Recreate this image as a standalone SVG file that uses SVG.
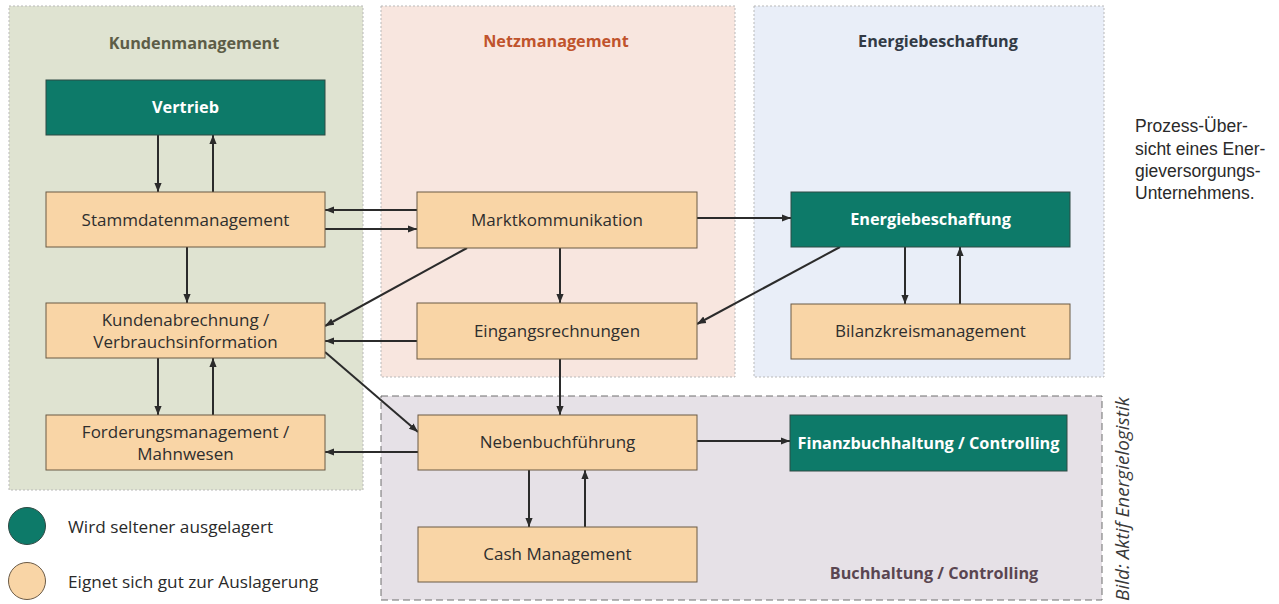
<svg xmlns="http://www.w3.org/2000/svg" width="1279" height="604" viewBox="0 0 1279 604">
<defs>
<marker id="ah" viewBox="0 0 10 10" refX="10" refY="5" markerWidth="9" markerHeight="9" markerUnits="userSpaceOnUse" orient="auto">
<path d="M0,1 L10,5 L0,9 z" fill="#2b2b2b"/>
</marker>
<style>
.panel{stroke:#b9b9b9;stroke-width:1;stroke-dasharray:2 2}
.title{font-family:"Open Sans","Liberation Sans",sans-serif;font-weight:bold;font-size:16.2px;text-anchor:middle}
.peach{fill:#f9d5a6;stroke:#6b5a45;stroke-width:1}
.teal{fill:#0d7a69;stroke:#2f4a44;stroke-width:1}
.lbl{font-family:"Open Sans","Liberation Sans",sans-serif;font-size:17px;fill:#2e2e2e;text-anchor:middle}
.wl{font-family:"Open Sans","Liberation Sans",sans-serif;font-size:16.3px;font-weight:bold;fill:#ffffff;text-anchor:middle}
.c line{stroke:#2b2b2b;stroke-width:2;marker-end:url(#ah)}
.cap{font-family:"Liberation Sans",sans-serif;font-size:17.5px;fill:#2a2a2a}
.leg{font-family:"Open Sans","Liberation Sans",sans-serif;font-size:17.2px;fill:#2a2a2a}
</style>
</defs>
<rect width="1279" height="604" fill="#ffffff"/>
<g id="panel-kunden">
<rect class="panel" x="9" y="6" width="354" height="484" fill="#dfe3d1"/>
<text class="title" x="194" y="49" fill="#5d5d47">Kundenmanagement</text>
</g>
<g id="panel-netz">
<rect class="panel" x="381" y="6" width="354" height="371" fill="#f8e6df"/>
<text class="title" x="556" y="47" fill="#c0532c">Netzmanagement</text>
</g>
<g id="panel-energie">
<rect class="panel" x="754" y="6" width="350" height="371" fill="#e9eef8"/>
<text class="title" x="938" y="47" fill="#323a45">Energiebeschaffung</text>
</g>
<g id="panel-buchhaltung">
<rect x="381" y="396" width="721" height="204" fill="#e6e1e7" stroke="#6e6e6e" stroke-width="1" stroke-dasharray="7 4"/>
<text class="title" x="934" y="579" fill="#5a4651">Buchhaltung / Controlling</text>
</g>
<g id="connectors" class="c">
<line x1="158" y1="135" x2="158" y2="192"/>
<line x1="213" y1="192" x2="213" y2="135"/>
<line x1="187" y1="247" x2="187" y2="303"/>
<line x1="158" y1="358" x2="158" y2="415"/>
<line x1="213" y1="415" x2="213" y2="358"/>
<line x1="417" y1="210" x2="325" y2="210"/>
<line x1="325" y1="229" x2="417" y2="229"/>
<line x1="467" y1="248" x2="325" y2="326"/>
<line x1="417" y1="341" x2="325" y2="341"/>
<line x1="560" y1="248" x2="560" y2="303"/>
<line x1="697" y1="218" x2="791" y2="218"/>
<line x1="840" y1="247" x2="697" y2="324"/>
<line x1="905" y1="247" x2="905" y2="304"/>
<line x1="960" y1="304" x2="960" y2="247"/>
<line x1="560" y1="359" x2="560" y2="415"/>
<line x1="325" y1="352" x2="418" y2="432"/>
<line x1="418" y1="452" x2="325" y2="452"/>
<line x1="697" y1="441" x2="790" y2="441"/>
<line x1="529" y1="470" x2="529" y2="527"/>
<line x1="585" y1="527" x2="585" y2="470"/>
</g>
<g id="n-vertrieb"><rect class="teal" x="46" y="80" width="279" height="55"/><text class="wl" x="185.5" y="113">Vertrieb</text></g>
<g id="n-stammdaten"><rect class="peach" x="46" y="192" width="279" height="55"/><text class="lbl" x="185.5" y="226">Stammdatenmanagement</text></g>
<g id="n-kundenabrechnung"><rect class="peach" x="46" y="303" width="279" height="55"/><text class="lbl" x="185.5" y="326">Kundenabrechnung /</text><text class="lbl" x="185.5" y="348">Verbrauchsinformation</text></g>
<g id="n-forderung"><rect class="peach" x="46" y="415" width="279" height="55"/><text class="lbl" x="185.5" y="438">Forderungsmanagement /</text><text class="lbl" x="185.5" y="460">Mahnwesen</text></g>
<g id="n-markt"><rect class="peach" x="417" y="192" width="280" height="56"/><text class="lbl" x="557" y="226">Marktkommunikation</text></g>
<g id="n-eingang"><rect class="peach" x="417" y="303" width="280" height="56"/><text class="lbl" x="557" y="337">Eingangsrechnungen</text></g>
<g id="n-nebenbuch"><rect class="peach" x="418" y="415" width="279" height="55"/><text class="lbl" x="557.5" y="448">Nebenbuchführung</text></g>
<g id="n-cash"><rect class="peach" x="418" y="527" width="279" height="55"/><text class="lbl" x="557.5" y="560">Cash Management</text></g>
<g id="n-energiebeschaffung"><rect class="teal" x="791" y="192" width="279" height="55"/><text class="wl" x="930.5" y="225">Energiebeschaffung</text></g>
<g id="n-bilanzkreis"><rect class="peach" x="791" y="304" width="279" height="55"/><text class="lbl" x="930.5" y="337">Bilanzkreismanagement</text></g>
<g id="n-finanz"><rect class="teal" x="790" y="415" width="277" height="56"/><text class="wl" x="928.5" y="449">Finanzbuchhaltung / Controlling</text></g>
<g id="legend">
<circle cx="27" cy="526" r="18.5" fill="#0d7a69" stroke="#2f4a44" stroke-width="1"/>
<text class="leg" x="68" y="533">Wird seltener ausgelagert</text>
<circle cx="27" cy="581" r="18.5" fill="#f9d5a6" stroke="#6b5a45" stroke-width="1"/>
<text class="leg" x="68" y="588">Eignet sich gut zur Auslagerung</text>
</g>
<g id="caption">
<text class="cap" x="1135" y="132">Prozess-Über-</text>
<text class="cap" x="1135" y="155">sicht eines Ener-</text>
<text class="cap" x="1135" y="177">gieversorgungs-</text>
<text class="cap" x="1135" y="199">Unternehmens.</text>
</g>
<text transform="translate(1129,601) rotate(-90)" font-family="Open Sans, Liberation Sans, sans-serif" font-style="italic" font-size="19" fill="#3a3a3a">Bild: Aktif Energielogistik</text>
</svg>
